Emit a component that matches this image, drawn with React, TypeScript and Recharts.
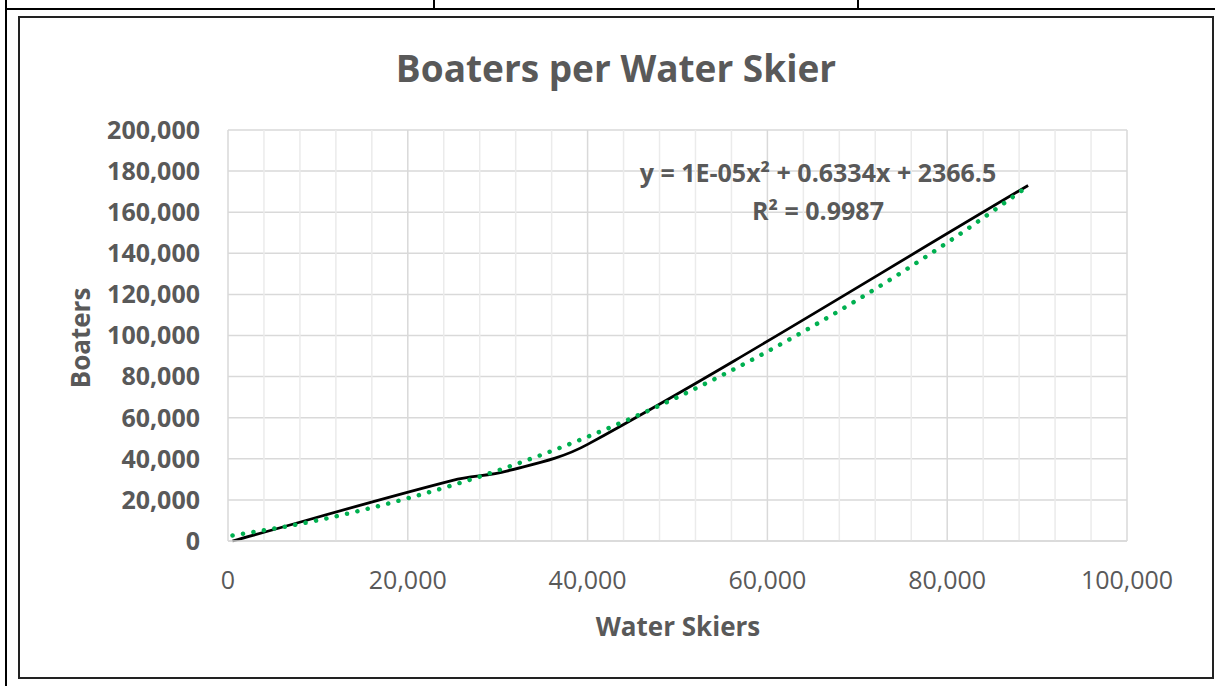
import React from "react";
import { LineChart, Line, XAxis, YAxis, CartesianGrid, ReferenceLine } from "recharts";

// water skiers (x) vs boaters (y)
const skiers = [500, 25000, 31000, 40000, 89000];
const boaters = [0, 29500, 34000, 47000, 173000];

// the dotted polynomial trendline, read at a few x positions
const trendSkiers = [500, 10000, 20000, 30000, 40000, 50000, 60000, 70000, 80000, 88800];
const trendBoaters = [2700, 10100, 20800, 34300, 50700, 70000, 92200, 117300, 145200, 172100];

const xTicks = [0, 20000, 40000, 60000, 80000, 100000];
const yTicks = [0, 20000, 40000, 60000, 80000, 100000, 120000, 140000, 160000, 180000, 200000];
const xMinor = [4000, 8000, 12000, 16000, 24000, 28000, 32000, 36000, 44000, 48000, 52000, 56000, 64000, 68000, 72000, 76000, 84000, 88000, 92000, 96000];

const series = skiers.map((x, i) => ({ x, y: boaters[i] }));
const trend = trendSkiers.map((x, i) => ({ x, y: trendBoaters[i] }));

const font = "'Open Sans', sans-serif";
const grey = "#595959";

// smoothed line like Excel's: cubic hermite with finite-difference tangents
const smoothCurve = (context: any) => {
  let pts: number[][] = [];
  return {
    areaStart() {},
    areaEnd() {},
    lineStart() {
      pts = [];
    },
    lineEnd() {
      const n = pts.length;
      if (!n) return;
      const m = pts.map((p, i) => {
        const a = pts[Math.max(0, i - 1)];
        const b = pts[Math.min(n - 1, i + 1)];
        return (b[1] - a[1]) / (b[0] - a[0] || 1);
      });
      context.moveTo(pts[0][0], pts[0][1]);
      for (let i = 0; i < n - 1; i++) {
        const p1 = pts[i];
        const p2 = pts[i + 1];
        const d = (p2[0] - p1[0]) / 3;
        context.bezierCurveTo(p1[0] + d, p1[1] + m[i] * d, p2[0] - d, p2[1] - m[i + 1] * d, p2[0], p2[1]);
      }
    },
    point(x: number, y: number) {
      pts.push([x, y]);
    },
  };
};

const fmt = (v: number) => v.toLocaleString("en-US");

const line = (style: React.CSSProperties) => (
  <div style={{ position: "absolute", background: "#000", ...style }} />
);

function App() {
  return (
    <div style={{ position: "absolute", left: 0, top: 0, width: 1218, height: 686, background: "#fff", overflow: "hidden" }}>
      {/* bits of the spreadsheet around the chart */}
      {line({ left: 5, top: 0, width: 2, height: 686 })}
      {line({ left: 5, top: 8, width: 1210, height: 2 })}
      {line({ left: 433, top: 0, width: 2, height: 9 })}
      {line({ left: 857, top: 0, width: 2, height: 9 })}
      <div style={{ position: "absolute", left: 18, top: 16, width: 1192, height: 659, border: "2px solid #222" }} />

      <LineChart
        width={1218}
        height={686}
        margin={{ top: 130, right: 91, bottom: 105, left: 0 }}
        style={{ position: "absolute", left: 0, top: 0 }}
      >
        <CartesianGrid vertical={false} stroke="#D9D9D9" strokeWidth={1.5} />
        {xMinor.map((v) => (
          <ReferenceLine key={"m" + v} x={v} stroke="#EBEBEB" strokeWidth={1.5} />
        ))}
        {xTicks.map((v) => (
          <ReferenceLine key={"M" + v} x={v} stroke="#D9D9D9" strokeWidth={1.5} />
        ))}
        <XAxis
          type="number"
          dataKey="x"
          domain={[0, 100000]}
          ticks={xTicks}
          tickFormatter={fmt}
          height={40}
          tickSize={0}
          tickMargin={30}
          axisLine={{ stroke: "#D9D9D9", strokeWidth: 1.5 }}
          tick={{ fill: grey, fontFamily: font, fontSize: 25 }}
          allowDataOverflow
        />
        <YAxis
          type="number"
          domain={[0, 200000]}
          ticks={yTicks}
          tickFormatter={fmt}
          width={228}
          tickSize={0}
          tickMargin={28}
          axisLine={false}
          tick={{ fill: grey, fontFamily: font, fontSize: 25, fontWeight: 700 }}
        />
        <Line
          data={series}
          dataKey="y"
          type={smoothCurve as any}
          stroke="#000"
          strokeWidth={2.75}
          dot={false}
          isAnimationActive={false}
        />
        <Line
          data={trend}
          dataKey="y"
          type="monotone"
          stroke="#00B050"
          strokeWidth={4.5}
          strokeDasharray="0.1 10.5"
          strokeLinecap="round"
          dot={false}
          isAnimationActive={false}
        />
      </LineChart>

      <div style={{ position: "absolute", left: 18, width: 1196, top: 44, textAlign: "center", fontFamily: font, fontWeight: 700, fontSize: 37, color: grey, lineHeight: "48px" }}>
        Boaters per Water Skier
      </div>
      <div style={{ position: "absolute", left: 478, width: 400, top: 608, textAlign: "center", fontFamily: font, fontWeight: 700, fontSize: 26, color: grey, lineHeight: "36px" }}>
        Water Skiers
      </div>
      <div style={{ position: "absolute", left: 80, top: 338, width: 0, height: 0 }}>
        <div style={{ position: "absolute", left: -100, top: -18, width: 200, textAlign: "center", transform: "rotate(-90deg)", fontFamily: font, fontWeight: 700, fontSize: 26, color: grey, lineHeight: "36px" }}>
          Boaters
        </div>
      </div>
      <div style={{ position: "absolute", left: 568, width: 500, top: 153, textAlign: "center", fontFamily: font, fontWeight: 700, fontSize: 25, color: grey, lineHeight: "38px" }}>
        y = 1E-05x² + 0.6334x + 2366.5
        <br />
        R² = 0.9987
      </div>
    </div>
  );
}

export default App;
